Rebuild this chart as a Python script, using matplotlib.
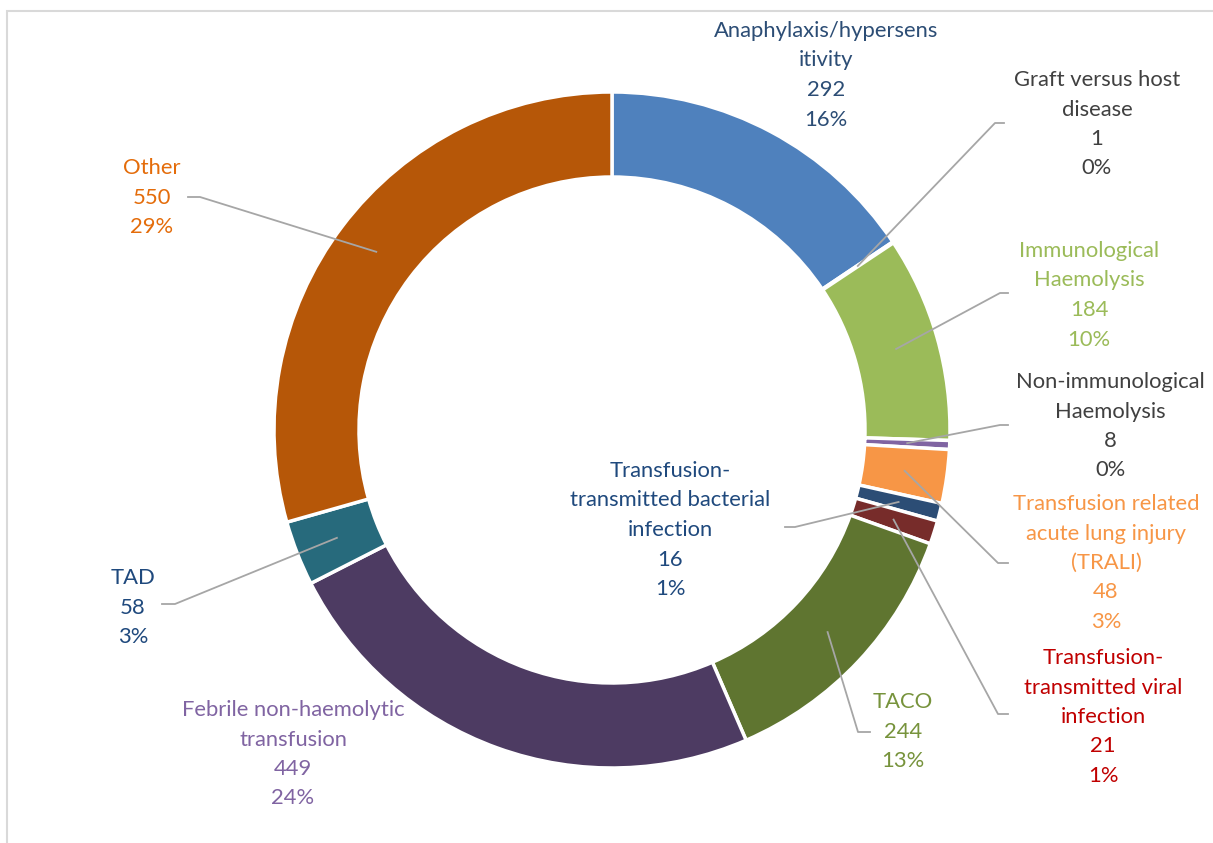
import numpy as np
import matplotlib
matplotlib.use("Agg")
import matplotlib.pyplot as plt

# ---- data ----
categories = ["Anaphylaxis/hypersensitivity", "Graft versus host disease",
              "Immunological Haemolysis", "Non-immunological Haemolysis",
              "Transfusion related acute lung injury (TRALI)",
              "Transfusion-transmitted bacterial infection",
              "Transfusion-transmitted viral infection", "TACO",
              "Febrile non-haemolytic transfusion", "TAD", "Other"]
values = [292, 1, 184, 8, 48, 16, 21, 244, 449, 58, 550]
label_lines = [
    ["Anaphylaxis/hypersens", "itivity"],
    ["Graft versus host", "disease"],
    ["Immunological", "Haemolysis"],
    ["Non-immunological", "Haemolysis"],
    ["Transfusion related", "acute lung injury", "(TRALI)"],
    ["Transfusion-", "transmitted bacterial", "infection"],
    ["Transfusion-", "transmitted viral", "infection"],
    ["TACO"],
    ["Febrile non-haemolytic", "transfusion"],
    ["TAD"],
    ["Other"],
]

# ---- style ----
wedge_colors = ["#4F81BD", "#C0504D", "#9BBB59", "#8064A2", "#F79646", "#2C4D75",
                "#772C2A", "#5F7530", "#4D3B62", "#276A7C", "#B65708"]
label_colors = ["#2C4D75", "#404040", "#9BBB59", "#404040", "#F79646", "#1F497D",
                "#C00000", "#77933C", "#8064A2", "#1F497D", "#E46C0A"]
# label layout (pixel coords: x centre, first-line y)
label_pos = [(826, 31), (1097, 80), (1089, 251), (1110, 382), (1106, 504), (670, 471),
             (1103, 658), (903, 702), (293, 710), (133, 578), (152, 168)]
# leader lines: (elbow point, end point) in pixel coords, or None
leaders = [None, ((995, 123), (1004, 123)), ((1000, 293), (1008, 293)),
           ((1000, 425), (1008, 425)), ((998, 563), (1008, 563)),
           ((795, 527), (785, 527)), ((998, 714), (1008, 714)),
           ((858, 732), (870, 732)), None, ((175, 604), (162, 604)),
           ((200, 197), (188, 197))]

W, H = 1213, 843
cx, cy = 612, 430
R_out, ring = 338, 85
line_step = 29.5

plt.rcParams['font.family'] = ['Lato', 'DejaVu Sans']
fig = plt.figure(figsize=(W / 100, H / 100), dpi=100)
ax = fig.add_axes([0, 0, 1, 1])


def P(x, y):
    return x, H - y


wedges, _ = ax.pie(values, colors=wedge_colors, startangle=90, counterclock=False,
                   radius=R_out, center=P(cx, cy),
                   wedgeprops=dict(width=ring, edgecolor="white", linewidth=2.5))
ax.set_xlim(0, W)
ax.set_ylim(0, H)
ax.set_aspect('auto')
ax.axis('off')

# chart border (partially visible)
ax.plot([7, 7, W + 5], [-5, H - 11, H - 11], color="#D9D9D9", lw=1.5,
        solid_joinstyle='miter', clip_on=False)

total = sum(values)
cum = 0
r_anchor = R_out - ring / 2
for i, v in enumerate(values):
    mid = cum + v / 2
    cum += v
    ang = np.deg2rad(90 - mid / total * 360)
    axp = cx + r_anchor * np.cos(ang)
    ayp = cy - r_anchor * np.sin(ang)
    pct = f"{round(v / total * 100):.0f}%"
    lines = label_lines[i] + [str(v), pct]
    lx, ly = label_pos[i]
    for k, t in enumerate(lines):
        ax.text(*P(lx, ly + k * line_step), t, ha='center', va='center',
                fontsize=15.8, color=label_colors[i])
    if leaders[i] is not None:
        (ex, ey), (fx, fy) = leaders[i]
        xs = [axp, ex, fx]
        ys = [H - ayp, H - ey, H - fy]
        ax.plot(xs, ys, color="#A6A6A6", lw=1.3)

fig.savefig("out.png", dpi=100, facecolor="white")
